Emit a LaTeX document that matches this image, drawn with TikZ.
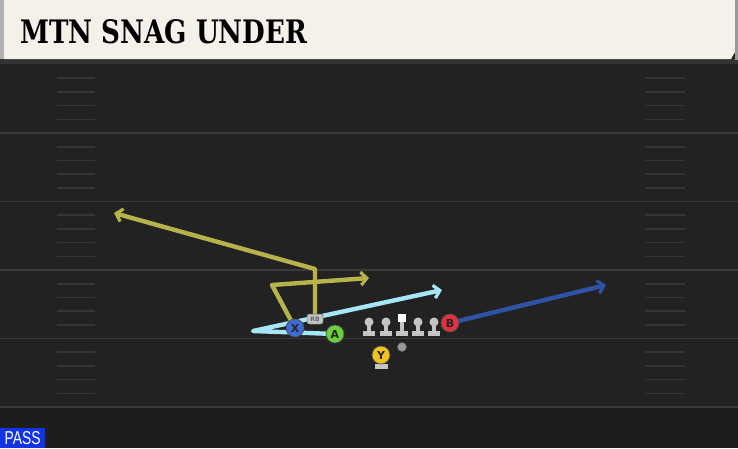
\documentclass[tikz,border=0pt]{standalone}
\usepackage{fontspec}
\usepackage{graphicx}
\setmainfont{DejaVu Sans}
\newfontfamily\titlefont{DejaVu Serif}
\newfontfamily\passfont{Liberation Sans}
\usetikzlibrary{arrows.meta}
\definecolor{fieldgrey}{HTML}{222222}
\definecolor{linegrey}{HTML}{3A3A3A}
\definecolor{hashgrey}{HTML}{353535}
\definecolor{titlecream}{HTML}{F4F1EA}
\definecolor{olive}{HTML}{B6B34C}
\definecolor{skyblue}{HTML}{A6E6F7}
\definecolor{deepblue}{HTML}{2E52A6}
\definecolor{xblue}{HTML}{3C6CD2}
\definecolor{agreen}{HTML}{6AD23A}
\definecolor{bred}{HTML}{E2313F}
\definecolor{yyellow}{HTML}{F0C222}
\definecolor{olgrey}{HTML}{C4C4C4}
\definecolor{passblue}{HTML}{1234E6}
\pgfdeclarelayer{bg}
\pgfdeclarelayer{routes}
\pgfsetlayers{bg,routes,main}
\tikzset{
  route/.style={line width=4.4pt, line join=round, line cap=butt,
    -{Straight Barb[length=6pt,width=13pt,line width=3.2pt]}},
  player/.style={circle, draw=black!70, line width=0.7pt, minimum size=18pt, inner sep=0pt,
    font=\bfseries\fontsize{11}{11}\selectfont, text=black!85},
  tag/.style={rounded corners=2pt, fill=olgrey, draw=black!60, line width=0.5pt,
    minimum width=16pt, minimum height=10pt, inner sep=0pt, font=\fontsize{6}{6}\selectfont\bfseries, text=black!60}
}
\begin{document}
\begin{tikzpicture}[x=1pt,y=-1pt,line join=round,line cap=round]
\useasboundingbox (0,0) rectangle (738,448);
\def \ytop{64.5};
\def \gap{68.5};
% field
\begin{pgfonlayer}{bg}
\fill[fieldgrey] (0,0) rectangle (738,448);
\fill[fieldgrey!85!black] (0,407) rectangle (738,448);
\fill[black!80] (0,59) rectangle (738,64);
\foreach \i in {1,...,5}{\draw[linegrey, line width=1.8pt] (0,\ytop+\i*\gap) -- (738,\ytop+\i*\gap);}
\foreach \i in {0,...,4}{
  \foreach \k in {1,...,4}{
    \draw[hashgrey, line width=1.6pt] (57,\ytop+\i*\gap+\k*\gap/5) -- (95,\ytop+\i*\gap+\k*\gap/5);
    \draw[hashgrey, line width=1.6pt] (645,\ytop+\i*\gap+\k*\gap/5) -- (685,\ytop+\i*\gap+\k*\gap/5);
  }
}
\fill[titlecream] (4,0) -- (735,0) -- (735,52) -- (731,59) -- (4,59) -- cycle;
\fill[black!30] (0,0) rectangle (4,59);
\fill[black!40] (735,0) rectangle (738,60);
\end{pgfonlayer}
\node[anchor=west, inner sep=0pt] (title) at (20,32) {\resizebox{287pt}{24pt}{\titlefont\bfseries MTN SNAG UNDER}};
\node[fill=passblue, anchor=south west, minimum width=45pt, minimum height=20pt, inner sep=0pt,
  text=white] (pass) at (0,448) {\resizebox{36pt}{13pt}{\passfont PASS}};
% line
\foreach \x [count=\i] in {369,386,418,434}{
  \fill[olgrey] (\x-6,331) rectangle (\x+6,336);
  \fill[olgrey] (\x-2,323) rectangle (\x+2,331);
  \node[circle, fill=olgrey, minimum size=9pt, inner sep=0pt] (ol\i) at (\x,322) {};
}
\fill[olgrey] (396,331) rectangle (408,336);
\fill[olgrey] (400,322) rectangle (404,331);
\node[fill=white, minimum size=8pt, inner sep=0pt] (center) at (402,318) {};
\node[circle, fill=gray!80, draw=black!60, line width=0.5pt, minimum size=9pt, inner sep=0pt] (qb) at (402,347) {};
% players
\fill[olgrey] (375,364) rectangle (388,368.5);
\fill[olgrey] (379,360) rectangle (384,364);
\node[player, fill=yyellow] (Y) at (381,355) {Y};
\node[player, fill=xblue] (X) at (295,328) {X};
\node[player, fill=agreen] (A) at (335,334) {A};
\node[player, fill=bred] (B) at (450,323) {B};
\node[tag] (RB) at (315,319) {RB};
\coordinate (rbbreak) at (315,269);
\coordinate (rbend) at (114,213);
\coordinate (xbreak) at (272,285);
\coordinate (xend) at (369,278);
\coordinate (abreak) at (253,331);
\coordinate (aend) at (442,290);
\coordinate (bend) at (606,285);
% routes
\begin{pgfonlayer}{routes}
\draw[route, olive] (RB.center) -- (rbbreak) -- (rbend);
\draw[route, olive] (X.center) -- (xbreak) -- (xend);
\draw[route, skyblue] (A.center) -- (abreak) -- (aend);
\draw[route, deepblue] (B.center) -- (bend);
\end{pgfonlayer}
\end{tikzpicture}
\end{document}
